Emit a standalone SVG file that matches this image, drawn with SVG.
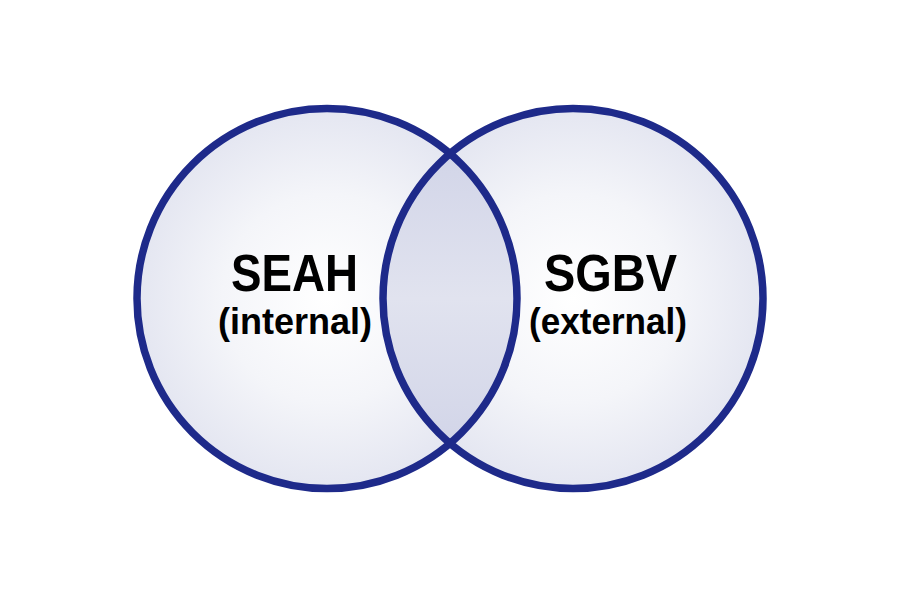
<svg xmlns="http://www.w3.org/2000/svg" width="900" height="600" viewBox="0 0 900 600">
  <defs>
    <radialGradient id="gCircle" cx="50%" cy="50%" r="50%">
      <stop offset="0" stop-color="#ffffff"/>
      <stop offset="0.55" stop-color="#f4f5f9"/>
      <stop offset="1" stop-color="#e4e6f1"/>
    </radialGradient>
    <linearGradient id="gLens" gradientUnits="userSpaceOnUse" x1="0" y1="153.7" x2="0" y2="443.3">
      <stop offset="0" stop-color="#d2d5e8"/>
      <stop offset="0.5" stop-color="#e1e3ef"/>
      <stop offset="1" stop-color="#d2d5e8"/>
    </linearGradient>
    <style>
      .ring { fill: none; stroke: #1e2a8a; stroke-width: 7.5; }
      .title { font-family: "Liberation Sans", Arial, sans-serif; font-weight: bold; font-size: 51px; fill: #000; text-anchor: middle; }
      .sub { font-family: "Liberation Sans", Arial, sans-serif; font-weight: bold; font-size: 36px; fill: #000; text-anchor: middle; }
    </style>
  </defs>
  <rect width="900" height="600" fill="#ffffff"/>
  <g id="seah">
    <circle cx="327" cy="298.5" r="190" fill="url(#gCircle)"/>
  </g>
  <g id="sgbv">
    <circle cx="573" cy="298.5" r="190" fill="url(#gCircle)"/>
  </g>
  <g id="overlap">
    <path d="M450,153.7 A190,190 0 0,1 450,443.3 A190,190 0 0,1 450,153.7 Z" fill="url(#gLens)"/>
  </g>
  <g id="outlines">
    <circle class="ring" cx="327" cy="298.5" r="190"/>
    <circle class="ring" cx="573" cy="298.5" r="190"/>
  </g>
  <g id="labels">
    <text class="title" x="294.5" y="291" textLength="127" lengthAdjust="spacingAndGlyphs">SEAH</text>
    <text class="sub" x="295" y="334">(internal)</text>
    <text class="title" x="610.5" y="291" textLength="133" lengthAdjust="spacingAndGlyphs">SGBV</text>
    <text class="sub" x="608" y="334" textLength="158" lengthAdjust="spacingAndGlyphs">(external)</text>
  </g>
</svg>
